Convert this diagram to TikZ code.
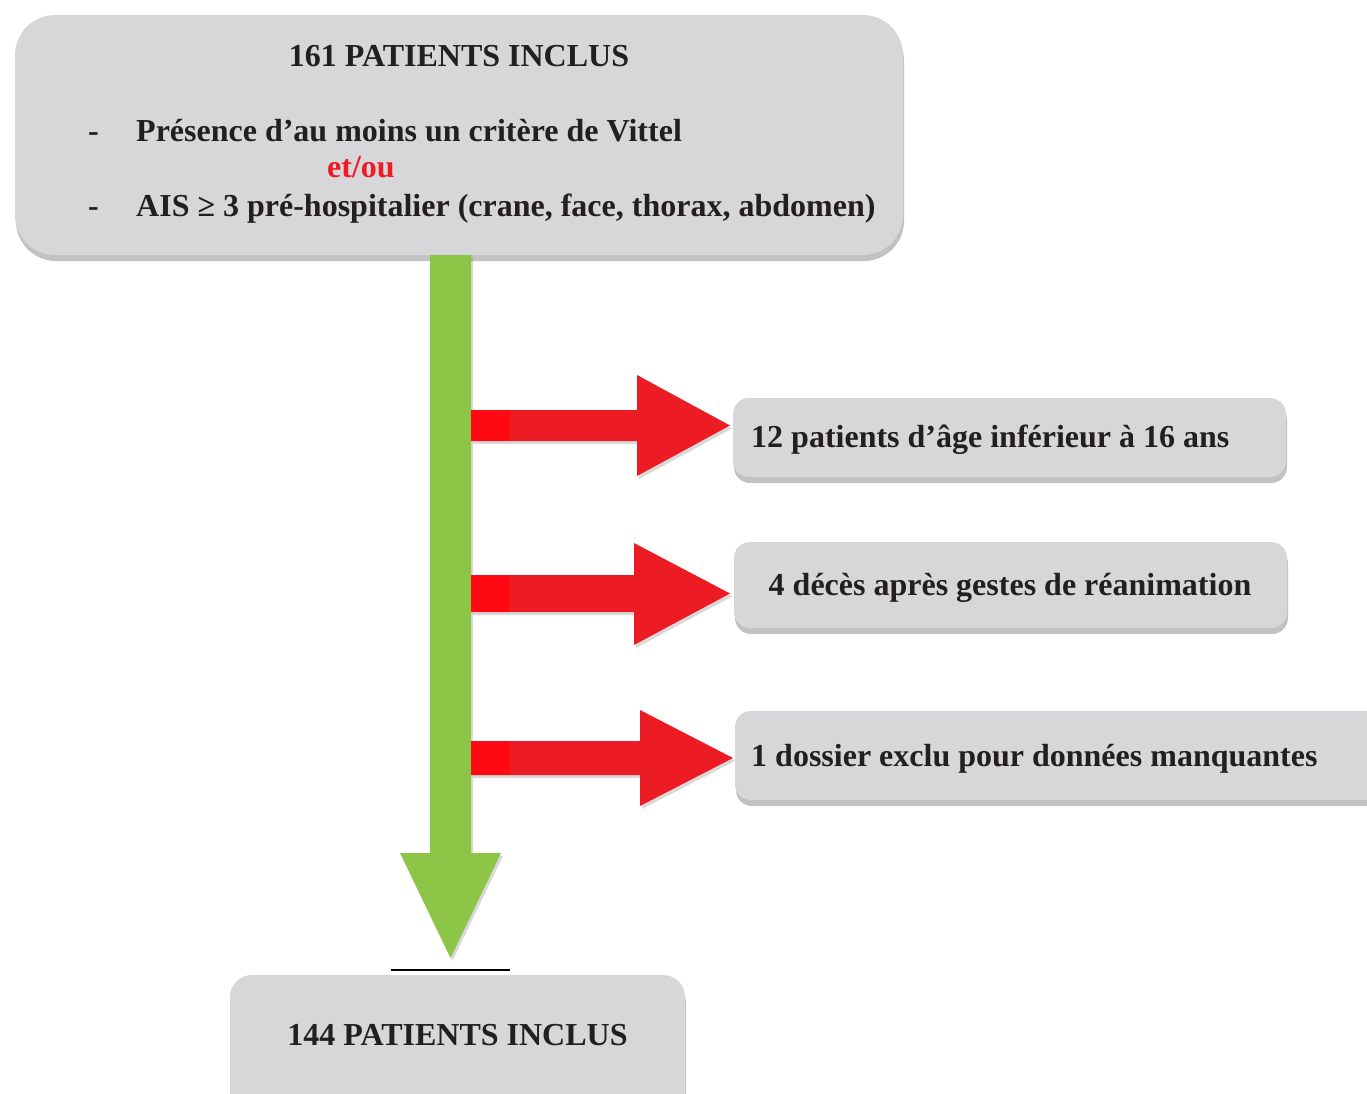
\documentclass[tikz,border=0pt]{standalone}
\usepackage{fontspec}
\setmainfont{Liberation Serif}
\usetikzlibrary{shadows,calc}
\definecolor{boxgray}{RGB}{215,215,217}
\definecolor{txt}{RGB}{35,31,32}
\definecolor{agreen}{RGB}{141,198,70}
\definecolor{ared}{RGB}{237,28,36}
\definecolor{abright}{RGB}{255,10,18}
\definecolor{etred}{RGB}{237,28,36}
\tikzset{
  graybox/.style={fill=boxgray, draw=none,
    drop shadow={shadow xshift=1pt, shadow yshift=-6pt, opacity=0.4, fill=black!60}},
  lbl/.style={text=txt, font=\fontsize{32}{38}\selectfont\bfseries, inner sep=0pt},
  arrowshadow/.style={drop shadow={shadow xshift=2pt, shadow yshift=-3pt, opacity=0.25, fill=black!60}}
}
\begin{document}
\begin{tikzpicture}[x=1pt,y=-1pt]
\useasboundingbox (0,0) rectangle (1367,1093);
% ---------- boxes ----------
\path[graybox, rounded corners=40pt] (15,15) rectangle (903,255);
\node[lbl, anchor=base] (t1) at (459,66) {161 PATIENTS INCLUS};
\node[lbl, anchor=base west] (d1) at (88,141) {-};
\node[lbl, anchor=base west] (t2) at (136,141) {Présence d’au moins un critère de Vittel};
\node[lbl, anchor=base west, text=etred] (t3) at (327,177) {et/ou};
\node[lbl, anchor=base west] (d2) at (88,216) {-};
\node[lbl, anchor=base west] (t4) at (136,216) {AIS ≥ 3 pré-hospitalier (crane, face, thorax, abdomen)};

\path[graybox, rounded corners=16pt] (733,398) rectangle (1286,477);
\node[lbl, anchor=base west] (b1) at (751,447) {12 patients d’âge inférieur à 16 ans};
\path[graybox, rounded corners=16pt] (734,542) rectangle (1287,628);
\node[lbl, anchor=base] (b2) at (1010,595) {4 décès après gestes de réanimation};
\path[graybox, rounded corners=16pt] (735,711) rectangle (1400,800);
\node[lbl, anchor=base west] (b3) at (751,766) {1 dossier exclu pour données manquantes};

\path[graybox, rounded corners=22pt] (230,975) rectangle (685,1120);
\node[lbl, anchor=base] (bot) at (457.5,1045) {144 PATIENTS INCLUS};

% ---------- green arrow ----------
\coordinate (gtip) at (450.5,958);
\fill[agreen, arrowshadow] (430,255) -- (471,255) -- (471,853) -- (501,853) -- (gtip) -- (400,853) -- (430,853) -- cycle;
\draw[black, line width=2pt] (391,970) -- (510,970);

% ---------- red arrows ----------
\coordinate (r1) at (730,425.5);
\fill[ared, arrowshadow] (471,410) -- (637,410) -- (637,375) -- (r1) -- (637,476) -- (637,441) -- (471,441) -- cycle;
\fill[abright] (471,410) rectangle (510,441);

\coordinate (r2) at (730,593.5);
\fill[ared, arrowshadow] (471,575) -- (634,575) -- (634,543) -- (r2) -- (634,645) -- (634,612) -- (471,612) -- cycle;
\fill[abright] (471,575) rectangle (510,612);

\coordinate (r3) at (733,758);
\fill[ared, arrowshadow] (471,741) -- (640,741) -- (640,710) -- (r3) -- (640,806) -- (640,775) -- (471,775) -- cycle;
\fill[abright] (471,741) rectangle (510,775);
\end{tikzpicture}
\end{document}
